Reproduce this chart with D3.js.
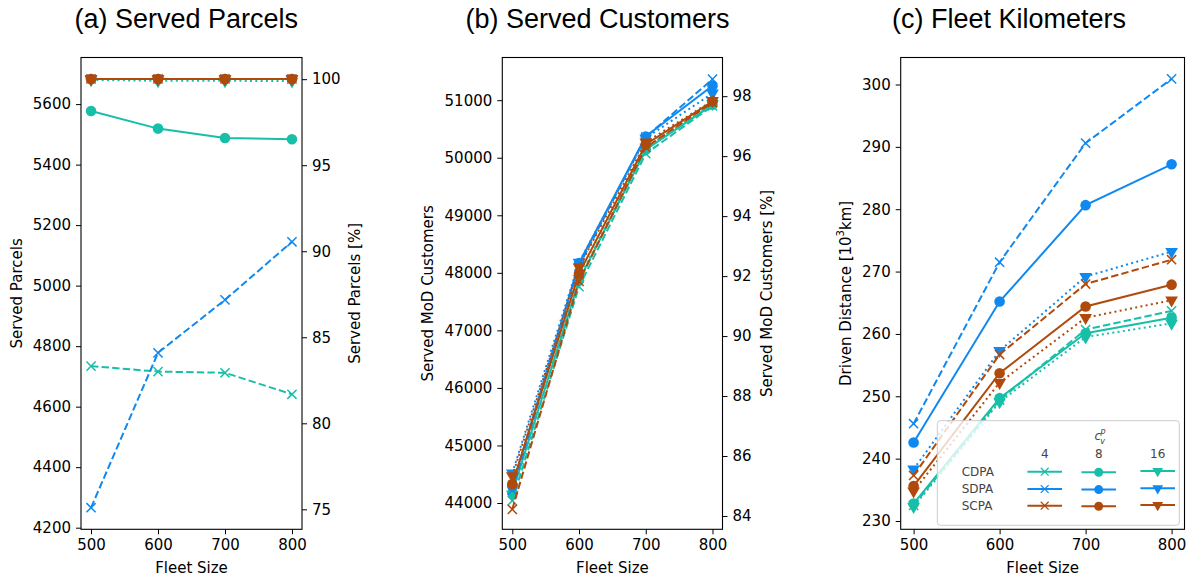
<!DOCTYPE html>
<html>
<head>
<meta charset="utf-8">
<script src="https://cdn.jsdelivr.net/npm/d3@7"></script>
<style>
  body { margin: 0; background: #fff; }
  svg text { font-family: "DejaVu Sans", sans-serif; }
  svg text.title { font-family: "Liberation Sans", Arial, sans-serif; }
</style>
</head>
<body>
<div id="chart"></div>
<script>
// data
const fleetSizes = [500, 600, 700, 800];
const algorithms = ["CDPA", "SDPA", "SCPA"];
const capacities = [4, 8, 16];
const algoColors = ["#18bfa8", "#0f89f0", "#b04a0c"];

// served parcels, one row per capacity (4, 8, 16)
const parcelsCDPA = [[4734, 4716, 4712, 4641], [5577, 5519, 5488, 5484], [5680, 5677, 5677, 5676]];
const parcelsSDPA = [[4266, 4778, 4953, 5145], [5683, 5683, 5683, 5683], [5683, 5683, 5683, 5683]];
const parcelsSCPA = [[5683, 5683, 5683, 5683], [5683, 5683, 5683, 5683], [5683, 5683, 5683, 5683]];

// served MoD customers
const customersCDPA = [[44040, 47760, 50070, 50900], [44180, 47870, 50140, 50920], [44150, 47900, 50180, 50940]];
const customersSDPA = [[44220, 48120, 50360, 51365], [44290, 48170, 50370, 51250], [44520, 48180, 50340, 51120]];
const customersSCPA = [[43890, 47850, 50180, 50960], [44330, 47990, 50230, 50980], [44470, 48100, 50270, 50990]];

// driven distance [10^3 km]
const kmCDPA = [[232.5, 249.4, 260.7, 263.7], [232.8, 249.7, 260.1, 262.6], [232.3, 249.1, 259.5, 261.7]];
const kmSDPA = [[245.6, 271.5, 290.6, 300.9], [242.6, 265.2, 280.65, 287.2], [238.3, 257.3, 269.2, 273.2]];
const kmSCPA = [[237.3, 256.7, 268.0, 271.9], [235.6, 253.7, 264.4, 267.9], [234.8, 252.2, 262.6, 265.4]];

const parcelTicks = [4200, 4400, 4600, 4800, 5000, 5200, 5400, 5600];
const parcelPctTicks = [75, 80, 85, 90, 95, 100];
const customerTicks = [44000, 45000, 46000, 47000, 48000, 49000, 50000, 51000];
const customerPctTicks = [84, 86, 88, 90, 92, 94, 96, 98];
const kmTicks = [230, 240, 250, 260, 270, 280, 290, 300];

const markerTypes = ["x", "o", "v"];
const dashTypes = ["7.4,3.2", null, "2,3.3"];

const width = 1192, height = 579;
const plotTop = 57.5, plotBottom = 529.3;

const svg = d3.select("#chart").append("svg")
  .attr("width", width)
  .attr("height", height);

const panels = [
  { title: "(a) Served Parcels", titleX: 186.3, left: 81, right: 302,
    data: [parcelsCDPA, parcelsSDPA, parcelsSCPA], domain: [4194.7, 5754], ticks: parcelTicks,
    ylabel: "Served Parcels", ylabelX: 16.7,
    rDomain: [73.84, 101.26], rTicks: parcelPctTicks, rlabel: "Served Parcels [%]", rlabelX: 355 },
  { title: "(b) Served Customers", titleX: 597.5, left: 502.3, right: 722.5,
    data: [customersCDPA, customersSDPA, customersSCPA], domain: [43543, 51742], ticks: customerTicks,
    ylabel: "Served MoD Customers", ylabelX: 428.3,
    rDomain: [83.556, 99.29], rTicks: customerPctTicks, rlabel: "Served MoD Customers [%]", rlabelX: 766.7 },
  { title: "(c) Fleet Kilometers", titleX: 1009, left: 900.7, right: 1184.5,
    data: [kmCDPA, kmSDPA, kmSCPA], domain: [228.67, 304.33], ticks: kmTicks,
    ylabel: null, ylabelX: 845.7 }
];

function drawMarker(g, type, color) {
  if (type === "x") {
    g.append("path")
      .attr("d", "M-4.6,-4.6L4.6,4.6M-4.6,4.6L4.6,-4.6")
      .attr("stroke", color).attr("stroke-width", 1.5).attr("fill", "none");
  } else if (type === "o") {
    g.append("circle").attr("r", 5.3).attr("fill", color);
  } else {
    g.append("path")
      .attr("d", d3.symbol(d3.symbolTriangle, 70)())
      .attr("transform", "rotate(180)")
      .attr("fill", color);
  }
}

function styleAxis(a) {
  a.select(".domain").remove();
  a.selectAll("text").attr("font-size", 15).attr("fill", "#000");
  a.selectAll("line").attr("stroke", "#000").attr("stroke-width", 1);
}

panels.forEach(p => {
  const x = d3.scaleLinear().domain([485, 815]).range([p.left, p.right]);
  const y = d3.scaleLinear().domain(p.domain).range([plotBottom, plotTop]);
  const g = svg.append("g");

  const plot = g.append("g");
  const line = d3.line().x((d, i) => x(fleetSizes[i])).y(d => y(d));

  algorithms.forEach((algo, ai) => {
    capacities.forEach((cap, ci) => {
      const vals = p.data[ai][ci];
      plot.append("path")
        .datum(vals)
        .attr("d", line)
        .attr("fill", "none")
        .attr("stroke", algoColors[ai])
        .attr("stroke-width", 2)
        .attr("stroke-dasharray", dashTypes[ci]);
      vals.forEach((v, i) => {
        const m = plot.append("g").attr("transform", `translate(${x(fleetSizes[i])},${y(v)})`);
        drawMarker(m, markerTypes[ci], algoColors[ai]);
      });
    });
  });

  // axes
  const xAxis = g.append("g").attr("transform", `translate(0,${plotBottom})`)
    .call(d3.axisBottom(x).tickValues(fleetSizes).tickFormat(d3.format("d")).tickSize(5).tickPadding(5));
  const yAxis = g.append("g").attr("transform", `translate(${p.left},0)`)
    .call(d3.axisLeft(y).tickValues(p.ticks).tickFormat(d3.format("d")).tickSize(5).tickPadding(5));
  styleAxis(xAxis);
  styleAxis(yAxis);

  if (p.rDomain) {
    const yr = d3.scaleLinear().domain(p.rDomain).range([plotBottom, plotTop]);
    const rAxis = g.append("g").attr("transform", `translate(${p.right},0)`)
      .call(d3.axisRight(yr).tickValues(p.rTicks).tickFormat(d3.format("d")).tickSize(5).tickPadding(5));
    styleAxis(rAxis);

    g.append("text")
      .attr("transform", `translate(${p.rlabelX},${(plotTop + plotBottom) / 2}) rotate(-90)`)
      .attr("text-anchor", "middle").attr("dominant-baseline", "central")
      .attr("font-size", 15).text(p.rlabel);
  }

  g.append("rect")
    .attr("x", p.left).attr("y", plotTop)
    .attr("width", p.right - p.left).attr("height", plotBottom - plotTop)
    .attr("fill", "none").attr("stroke", "#000").attr("stroke-width", 1.1);

  // labels
  g.append("text")
    .attr("x", (p.left + p.right) / 2).attr("y", 567.7)
    .attr("text-anchor", "middle").attr("dominant-baseline", "central")
    .attr("font-size", 15).text("Fleet Size");

  const yl = g.append("text")
    .attr("transform", `translate(${p.ylabelX},${(plotTop + plotBottom) / 2}) rotate(-90)`)
    .attr("text-anchor", "middle").attr("dominant-baseline", "central")
    .attr("font-size", 15);
  if (p.ylabel) {
    yl.text(p.ylabel);
  } else {
    yl.append("tspan").text("Driven Distance [10");
    yl.append("tspan").attr("font-size", 10).attr("dy", -6).text("3");
    yl.append("tspan").attr("dy", 6).text("km]");
  }

  g.append("text")
    .attr("class", "title")
    .attr("x", p.titleX).attr("y", 28.3)
    .attr("text-anchor", "middle")
    .attr("font-size", 27).text(p.title);

  // legend lives in panel (c)
  if (!p.rDomain) {
    const lg = g.append("g");
    lg.append("rect")
      .attr("x", 937.3).attr("y", 420.7).attr("width", 242).attr("height", 104.6)
      .attr("rx", 3)
      .attr("fill", "#fff").attr("fill-opacity", 0.8)
      .attr("stroke", "#cccccc").attr("stroke-width", 1);

    const ct = lg.append("text")
      .attr("x", 1100).attr("y", 440)
      .attr("text-anchor", "middle").attr("fill", "#444")
      .attr("font-size", 12).attr("font-style", "italic");
    ct.append("tspan").text("c");
    ct.append("tspan").attr("font-size", 8).attr("dy", 4).attr("dx", -1).text("v");
    ct.append("tspan").attr("font-size", 8).attr("dy", -10).attr("dx", -4.5).text("p");

    const colX = [1044.7, 1098.7, 1157.7];
    const rowY = [471.7, 489, 505.7];
    capacities.forEach((cap, ci) => {
      lg.append("text")
        .attr("x", colX[ci]).attr("y", 454.3)
        .attr("text-anchor", "middle").attr("dominant-baseline", "central")
        .attr("fill", "#444").attr("font-size", 12).text(cap);
    });
    algorithms.forEach((algo, ai) => {
      lg.append("text")
        .attr("x", 961.7).attr("y", rowY[ai])
        .attr("dominant-baseline", "central")
        .attr("fill", "#444").attr("font-size", 12).text(algo);
      capacities.forEach((cap, ci) => {
        const yy = rowY[ai] + (ci === 1 ? 0.6 : ci === 2 ? -0.7 : 0);
        lg.append("line")
          .attr("x1", colX[ci] - 17.3).attr("x2", colX[ci] + 17.3)
          .attr("y1", yy).attr("y2", yy)
          .attr("stroke", algoColors[ai]).attr("stroke-width", 2);
        const m = lg.append("g").attr("transform", `translate(${colX[ci]},${yy}) scale(0.85)`);
        drawMarker(m, markerTypes[ci], algoColors[ai]);
      });
    });
  }
});
</script>
</body>
</html>
